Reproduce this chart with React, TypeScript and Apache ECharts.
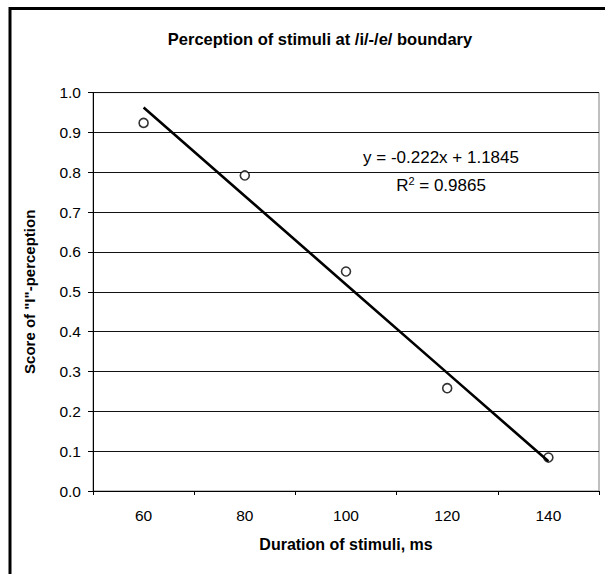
import React, { useEffect, useRef } from "react";
import * as echarts from "echarts";

const categories = ["60", "80", "100", "120", "140"];
const scores = [0.924, 0.792, 0.551, 0.258, 0.084];
const trendSlope = -0.222;
const trendIntercept = 1.1845;
const rSquared = "0.9865";
const titleText = "Perception of stimuli at /i/-/e/ boundary";
const xTitle = "Duration of stimuli, ms";
const yTitle = 'Score of "I"-perception';

const FONT = '"Liberation Sans", Arial, sans-serif';

export default function App() {
  const ref = useRef<HTMLDivElement>(null);
  useEffect(() => {
    document.body.style.margin = "0";
    const chart = echarts.init(ref.current!, null, { renderer: "svg" });
    const trend = categories.map((_, i) => trendIntercept + trendSlope * (i + 1));
    const eqText = `y = ${trendSlope}x + ${trendIntercept}`;
    chart.setOption({
      animation: false,
      backgroundColor: "#fff",
      textStyle: { fontFamily: FONT },
      title: {
        text: titleText,
        left: 315,
        textAlign: "center",
        top: 25,
        textStyle: { fontFamily: FONT, fontSize: 16.5, fontWeight: "bold", color: "#000" },
      },
      grid: {
        left: 93,
        top: 92.6,
        width: 506,
        height: 398.4,
        show: true,
        borderColor: "#808080",
        borderWidth: 1,
        backgroundColor: "transparent",
      },
      xAxis: {
        type: "category",
        data: categories,
        boundaryGap: true,
        name: xTitle,
        nameLocation: "middle",
        nameGap: 45,
        nameTextStyle: { fontFamily: FONT, fontSize: 16, fontWeight: "bold", color: "#000" },
        axisLine: { lineStyle: { color: "#000", width: 1 } },
        axisTick: { show: true, alignWithLabel: false, interval: 0, length: 4, lineStyle: { color: "#000" } },
        axisLabel: { fontFamily: FONT, fontSize: 15.5, color: "#000", margin: 16, interval: 0 },
        splitLine: { show: false },
      },
      yAxis: {
        type: "value",
        min: 0,
        max: 1,
        interval: 0.1,
        name: yTitle,
        nameLocation: "middle",
        nameGap: 56,
        nameRotate: 90,
        nameTextStyle: { fontFamily: FONT, fontSize: 15, fontWeight: "bold", color: "#000" },
        axisLine: { show: true, lineStyle: { color: "#000", width: 1 } },
        axisTick: { show: true, length: 5, lineStyle: { color: "#000" } },
        axisLabel: {
          fontFamily: FONT,
          fontSize: 15.5,
          color: "#000",
          margin: 12,
          formatter: (v: number) => v.toFixed(1),
        },
        splitLine: { show: true, lineStyle: { color: "#111", width: 1 } },
      },
      series: [
        {
          type: "scatter",
          data: scores,
          symbol: "circle",
          symbolSize: 9,
          itemStyle: { color: "#fff", borderColor: "#000", borderWidth: 1.6 },
          z: 2,
        },
        {
          type: "line",
          data: trend,
          symbol: "none",
          lineStyle: { color: "#000", width: 2.6 },
          z: 3,
        },
      ],
      graphic: [
        {
          type: "rect",
          shape: { x: 10, y: 8.5, width: 1000, height: 1000 },
          style: { fill: "none", stroke: "#000", lineWidth: 3 },
          silent: true,
          z: 100,
        },
        {
          type: "text",
          x: 441,
          y: 157,
          style: {
            text: eqText,
            align: "center",
            verticalAlign: "middle",
            fontFamily: FONT,
            fontSize: 17,
            fill: "#000",
          },
          z: 100,
        },
        {
          type: "text",
          x: 441,
          y: 185,
          style: {
            text: `R{sup|2} = ${rSquared}`,
            align: "center",
            verticalAlign: "middle",
            fontFamily: FONT,
            fontSize: 17,
            fill: "#000",
            rich: {
              sup: { fontSize: 11, verticalAlign: "top", padding: [0, 0, 9, 0], fontFamily: FONT },
            },
          },
          z: 100,
        },
      ],
    });
    return () => chart.dispose();
  }, []);
  return <div ref={ref} style={{ width: 605, height: 574 }} />;
}
